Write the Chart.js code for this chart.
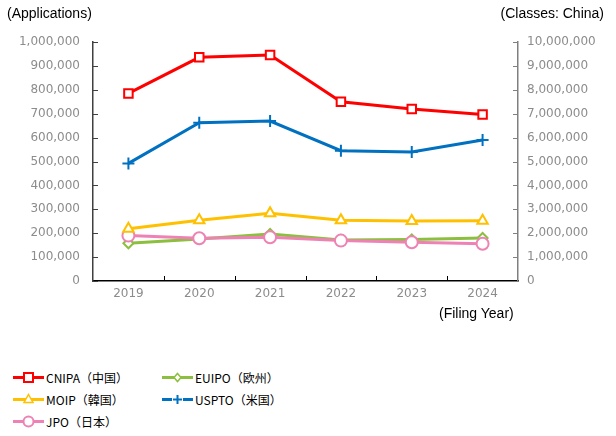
<!DOCTYPE html>
<html>
<head>
<meta charset="utf-8">
<script src="https://cdn.jsdelivr.net/npm/chart.js@4/dist/chart.umd.min.js"></script>
<style>
  body { margin: 0; background: #fff; width: 616px; height: 436px; position: relative; overflow: hidden; }
  #wrap { position: absolute; left: 0; top: 0; width: 616px; height: 320px; }
  .cap { position: absolute; font-family: "Liberation Sans", Arial, sans-serif; font-size: 14px; color: #000; white-space: nowrap; }
  .leg { position: absolute; font-family: "Noto Sans CJK JP", sans-serif; font-size: 12px; color: #000; white-space: nowrap; display: flex; align-items: center; height: 18px; }
  .leg svg { margin-right: 2px; }
</style>
</head>
<body>
<div id="wrap"><canvas id="myChart" width="616" height="320"></canvas></div>
<div class="cap" style="left:7px;top:5px;">(Applications)</div>
<div class="cap" style="right:12px;top:5px;">(Classes: China)</div>
<div class="cap" style="left:439px;top:305px;">(Filing Year)</div>
<div id="legend"></div>
<script>
const years = ['2019', '2020', '2021', '2022', '2023', '2024']
// CNIPA counted in classes, plotted on the right axis
const cnipa = [7850000, 9360000, 9460000, 7500000, 7200000, 6970000]
const uspto = [492000, 662000, 669000, 545000, 540000, 590000]
const moip = [219000, 254000, 283000, 254000, 251000, 252000]
const euipo = [158000, 176000, 197000, 172000, 174000, 180000]
const jpo = [190000, 179000, 183000, 169000, 162000, 156000]
const names = ['CNIPA（中国）', 'EUIPO（欧州）', 'MOIP（韓国）', 'USPTO（米国）', 'JPO（日本）']

const red = '#ff0000', blue = '#0070c0', gold = '#ffc000', green = '#8cbf3f', pink = '#ee82b4'

function ds(label, data, color, style, r, axis, order) {
    return {
        label: label, data: data, yAxisID: axis,
        borderColor: color, borderWidth: 3,
        pointStyle: style, pointRadius: r, pointBorderWidth: 2,
        pointBackgroundColor: '#fff', pointBorderColor: color,
        tension: 0, order: order
    }
}

// inward tick marks on all three axes
const innerTicks = {
    id: 'innerTicks',
    beforeDatasetsDraw(chart) {
        const c = chart.ctx, a = chart.chartArea
        const yl = chart.scales.y, yr = chart.scales.y2, x = chart.scales.x
        c.save()
        c.lineWidth = 1
        c.strokeStyle = '#404040'
        yl.ticks.forEach(t => {
            const p = Math.round(yl.getPixelForValue(t.value)) + 0.5
            c.beginPath(); c.moveTo(a.left, p); c.lineTo(a.left + 5, p); c.stroke()
        })
        c.strokeStyle = '#808080'
        yr.ticks.forEach(t => {
            const p = Math.round(yr.getPixelForValue(t.value)) + 0.5
            c.beginPath(); c.moveTo(a.right, p); c.lineTo(a.right - 5, p); c.stroke()
        })
        c.strokeStyle = '#000'
        for (let i = 0; i < years.length - 1; i++) {
            const p = Math.round((x.getPixelForValue(i) + x.getPixelForValue(i + 1)) / 2) + 0.5
            c.beginPath(); c.moveTo(p, a.bottom); c.lineTo(p, a.bottom - 5); c.stroke()
        }
        c.restore()
    }
}

const tickFont = { family: 'DejaVu Sans', size: 12 }
const noGrid = { display: false, drawTicks: false, tickLength: 0 }
var ctx = document.getElementById('myChart').getContext('2d')
var myChart = new Chart(ctx, {
    type: 'line',
    data: {
        labels: years,
        datasets: [
            ds(names[0], cnipa, red, 'rect', 6, 'y2', 1),
            ds(names[3], uspto, blue, 'cross', 6, 'y', 2),
            ds(names[2], moip, gold, 'triangle', 6, 'y', 3),
            ds(names[4], jpo, pink, 'circle', 6, 'y', 4),
            ds(names[1], euipo, green, 'rectRot', 5, 'y', 5)
        ]
    },
    options: {
        responsive: false,
        animation: false,
        devicePixelRatio: 1,
        layout: { padding: { top: 42 } },
        plugins: { legend: { display: false }, tooltip: { enabled: false } },
        scales: {
            x: {
                offset: true,
                grid: noGrid,
                border: { color: '#000', width: 1.5 },
                ticks: { color: '#8c8c8c', font: tickFont, padding: 6 },
                afterFit(s) { s.height = 39 }
            },
            y: {
                position: 'left',
                min: 0, max: 1000000,
                grid: noGrid,
                border: { color: '#404040', width: 1.5 },
                ticks: { stepSize: 100000, color: '#8c8c8c', font: tickFont, padding: 13,
                    callback: v => v.toLocaleString('en-US') },
                afterFit(s) { s.width = 93 }
            },
            y2: {
                position: 'right',
                min: 0, max: 10000000,
                grid: noGrid,
                border: { color: '#808080', width: 1.5 },
                ticks: { stepSize: 1000000, color: '#8c8c8c', font: tickFont, padding: 9,
                    callback: v => v.toLocaleString('en-US') },
                afterFit(s) { s.width = 98 }
            }
        }
    },
    plugins: [innerTicks]
})

// html legend, two columns
const legendItems = [
    { t: names[0], c: red, m: 'rect', x: 13, y: 368 },
    { t: names[1], c: green, m: 'diamond', x: 162, y: 368 },
    { t: names[2], c: gold, m: 'tri', x: 13, y: 390 },
    { t: names[3], c: blue, m: 'plus', x: 162, y: 390 },
    { t: names[4], c: pink, m: 'circle', x: 13, y: 412 }
]
function marker(m, c) {
    if (m == 'rect') return '<rect x="11" y="4" width="9" height="9" fill="#fff" stroke="' + c + '" stroke-width="2"/>'
    if (m == 'diamond') return '<polygon points="15.5,4.5 19,8.5 15.5,12.5 12,8.5" fill="#fff" stroke="' + c + '" stroke-width="1.5"/>'
    if (m == 'tri') return '<polygon points="15.5,3.5 20,11.5 11,11.5" fill="#fff" stroke="' + c + '" stroke-width="1.5"/>'
    if (m == 'plus') return '<rect x="10" y="3" width="11" height="11" fill="#fff"/><path d="M15.5 4 V13 M11 8.5 H20" stroke="' + c + '" stroke-width="2"/>'
    return '<circle cx="15.5" cy="8.5" r="5" fill="#fff" stroke="' + c + '" stroke-width="2"/>'
}
let html = ''
legendItems.forEach(it => {
    html += '<div class="leg" style="left:' + it.x + 'px;top:' + it.y + 'px;">' +
        '<svg width="31" height="17"><line x1="0" y1="8.5" x2="31" y2="8.5" stroke="' + it.c + '" stroke-width="3"/>' +
        marker(it.m, it.c) + '</svg>' + it.t + '</div>'
})
document.getElementById('legend').innerHTML = html
</script>
</body>
</html>
